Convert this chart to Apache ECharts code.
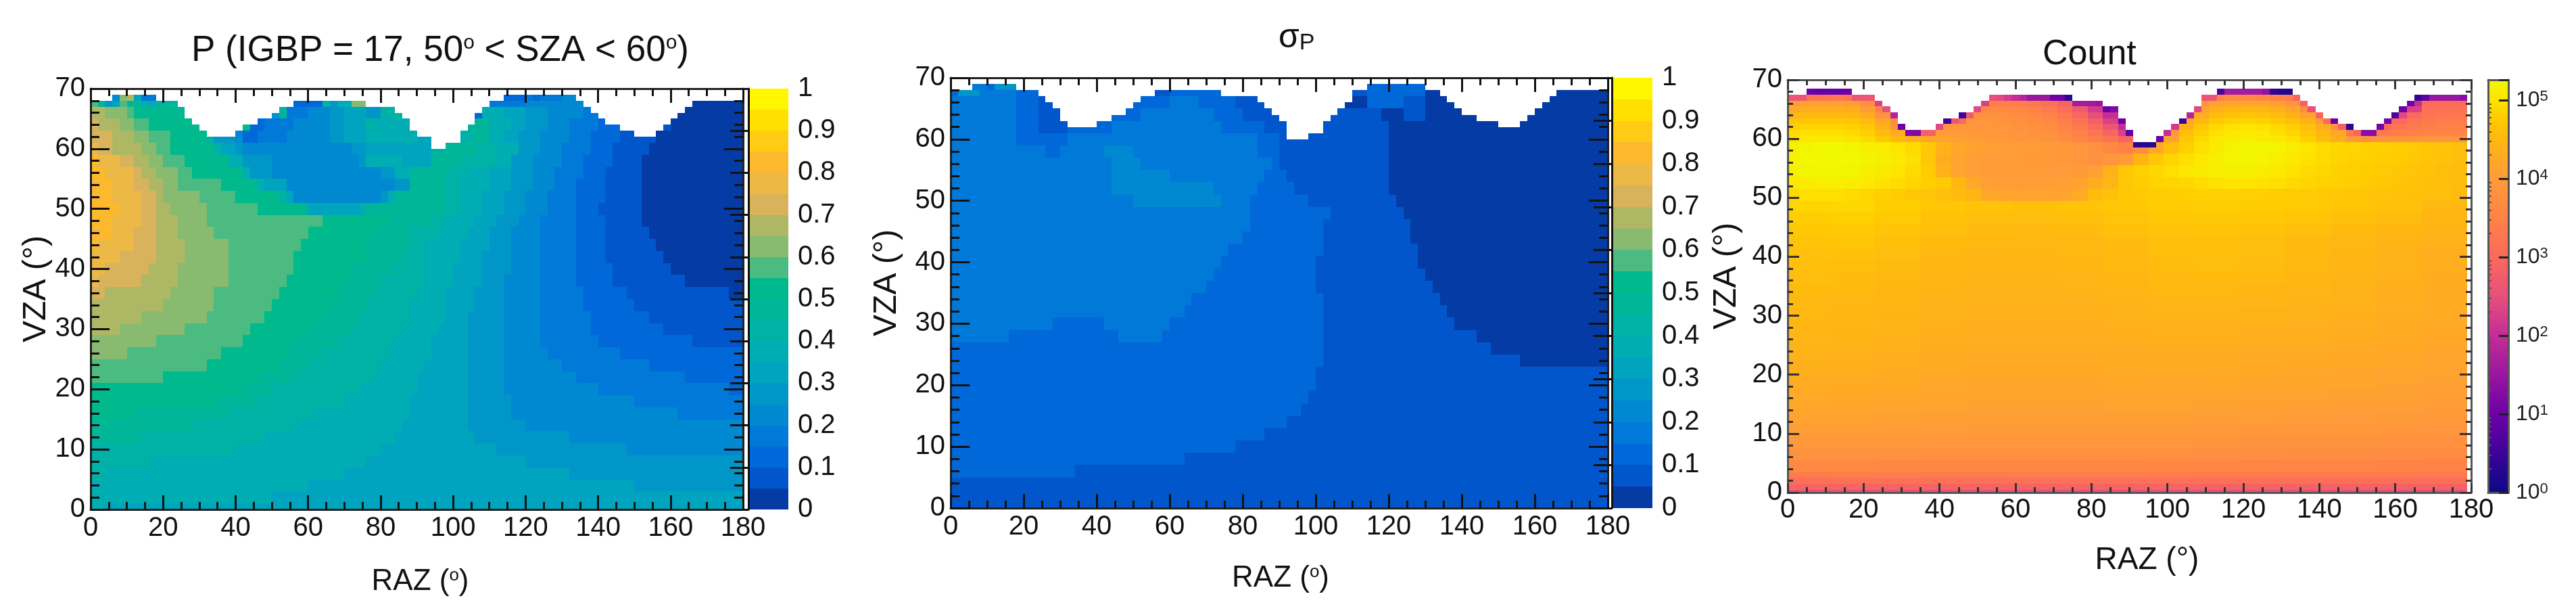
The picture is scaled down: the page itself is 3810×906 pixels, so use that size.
<!DOCTYPE html>
<html><head><meta charset="utf-8">
<style>html,body{margin:0;padding:0;background:#fff}#c{width:3810px;height:906px}</style>
<script src="https://cdn.jsdelivr.net/npm/echarts@6/dist/echarts.min.js"></script>
</head><body><div id="c"></div>
<script>
// ---------- axis ticks ----------
const razTicks=[0,180], vzaTicks=[0,70], decadeMinor=[2,3,4,5,6,7,8,9];
// ---------- palette of the 20 contour levels (0..1, step 0.05) ----------
const levelColors=['#043ba4','#0256cc','#0068d9','#0079d8','#0089d0','#0097c8','#00a4be','#00adb2','#00b2a5','#00b699','#00b98d','#4cbb81','#88bb6f','#aeb864','#d8b35c','#ecb946','#fcb92e','#ffcb14','#ffe000','#fff700'];
// ---------- P: top edge of data (VZA) for each 2 deg RAZ column ----------
const pTop=[68,68,68,69,69,69,69,69,69,68,68,68,67,65,64,63,62,62,62,62,63,64,64,65,65,66,67,67,68,68,68,68,68,68,68,68,68,68,67,67,67,67,66,65,63,62,62,60,60,61,61,63,64,66,67,68,68,69,69,69,69,69,69,69,69,69,69,68,67,66,65,64,64,63,63,62,62,62,63,64,65,66,67,68,68,68,68,68,68,68];
// P contour level along each VZA band: [vzaLow, vzaHigh, [razEnd, level, razEnd, level, ...]]
const pBands=[
[68,69,[8,4,10,12,12,13,14,6,18,3,114,3,120,2,122,3,124,2,130,3,134,4,180,0]],
[67,68,[2,11,4,9,6,5,8,6,10,11,14,9,18,7,20,8,26,9,56,3,64,2,66,8,68,5,72,7,76,12,110,7,120,3,126,4,136,4,180,0]],
[65,67,[4,13,10,12,12,11,24,10,26,9,50,9,52,5,54,9,60,3,66,4,70,5,76,6,80,5,84,8,90,9,106,2,108,2,114,7,120,6,126,5,136,4,140,3,160,1,180,0]],
[63,65,[2,14,8,13,12,12,16,11,44,10,48,2,56,3,66,4,70,5,76,6,78,8,88,7,102,8,104,8,110,9,116,7,120,6,126,5,132,4,140,3,146,2,160,1,180,0]],
[61,63,[6,14,12,13,16,12,22,11,32,10,34,8,40,5,42,4,46,2,54,3,66,4,70,5,76,6,84,7,90,7,94,6,106,8,110,9,114,7,118,6,124,5,132,4,138,3,146,2,156,1,180,0]],
[59,61,[2,15,6,14,14,13,18,12,22,11,34,10,36,8,40,6,42,5,72,4,76,5,84,6,94,6,98,8,106,9,112,8,118,7,124,5,130,4,138,3,144,2,154,1,180,0]],
[57,59,[2,16,8,15,12,14,16,13,20,12,26,11,38,10,42,7,50,5,74,4,76,5,86,7,94,6,102,9,112,8,116,7,122,5,130,4,136,3,144,2,152,1,180,0]],
[55,57,[4,16,12,15,14,14,18,13,24,12,28,11,42,10,44,7,50,5,80,4,84,5,88,7,98,9,104,8,110,7,116,6,122,5,128,4,136,3,142,2,152,1,180,0]],
[53,55,[6,16,12,15,16,14,20,13,24,12,36,11,46,10,48,7,54,6,84,4,88,5,98,9,102,8,110,7,116,6,122,5,128,4,134,3,142,2,152,1,180,0]],
[51,53,[6,16,14,15,18,14,20,13,30,12,40,11,52,10,54,8,56,6,80,4,82,5,84,7,98,9,102,8,108,7,114,6,120,5,126,4,134,3,142,2,152,1,180,0]],
[49,51,[8,16,14,15,18,14,22,13,32,12,46,11,58,10,60,9,74,6,76,7,98,9,102,8,108,7,114,6,120,5,126,4,134,3,140,2,152,1,180,0]],
[47,49,[6,16,14,15,18,14,24,13,32,12,64,11,82,10,94,9,98,8,106,7,112,6,118,5,124,4,134,3,142,2,152,1,180,0]],
[45,47,[6,16,12,15,18,14,24,13,34,12,60,11,78,10,88,9,96,8,104,7,110,6,116,5,124,4,134,3,142,2,154,1,180,0]],
[43,45,[2,16,12,15,18,14,26,13,38,12,58,11,76,10,88,9,92,8,102,7,110,6,116,5,124,4,134,3,142,2,156,1,180,0]],
[41,43,[8,15,18,14,26,13,38,12,56,11,76,10,86,9,92,8,102,7,108,6,116,5,124,4,134,3,142,2,158,1,180,0]],
[39,41,[4,15,16,14,24,13,38,12,56,11,72,10,84,9,92,8,100,7,108,6,116,5,124,4,134,3,144,2,160,1,180,0]],
[37,39,[2,15,14,14,24,13,38,12,54,11,70,10,80,9,92,8,100,7,108,6,114,5,124,4,134,3,144,2,164,1,180,0]],
[35,37,[4,14,22,13,34,12,52,11,68,10,78,9,90,8,98,7,106,6,114,5,124,4,136,3,148,2,176,1,180,0]],
[33,35,[20,13,34,12,50,11,66,10,76,9,88,8,98,7,106,6,114,5,124,4,136,3,150,2,180,1]],
[31,33,[14,13,32,12,48,11,64,10,74,9,88,8,98,7,104,6,114,5,124,4,138,3,154,2,180,1]],
[29,31,[8,13,26,12,44,11,60,10,72,9,86,8,96,7,104,6,114,5,124,4,138,3,158,2,180,1]],
[27,29,[18,12,42,11,56,10,68,9,84,8,94,7,104,6,114,5,124,4,140,3,166,2,180,1]],
[25,27,[10,12,36,11,54,10,64,9,82,8,94,7,104,6,114,5,126,4,146,3,180,2]],
[23,25,[32,11,52,10,60,9,80,8,92,7,104,6,114,5,130,4,154,3,180,2]],
[21,23,[20,11,46,10,56,9,78,8,90,7,104,6,114,5,134,4,164,3,180,2]],
[19,21,[42,10,50,9,74,8,90,7,104,6,114,5,140,4,176,3,180,2]],
[17,19,[34,10,46,9,70,8,88,7,104,6,116,5,150,4,180,3]],
[15,17,[12,10,38,9,62,8,88,7,104,6,116,5,162,4,180,3]],
[13,15,[28,9,56,8,86,7,104,6,120,5,180,4]],
[11,13,[14,9,48,8,84,7,106,6,132,5,180,4]],
[9,11,[40,8,80,7,112,6,148,5,180,4]],
[7,9,[16,8,76,7,120,6,180,5]],
[5,7,[4,8,70,7,132,6,180,5]],
[3,5,[60,7,150,6,180,5]],
[1,3,[50,7,180,6]],
[0,1,[4,7,180,6]]];
// ---------- sigma P ----------
const sTop=[68,68,68,69,69,69,69,69,69,68,68,68,67,66,65,63,62,62,62,62,63,63,64,64,65,66,67,67,68,68,68,68,68,68,68,68,68,67,67,67,67,67,66,65,64,63,60,60,60,61,61,63,64,65,66,68,68,69,69,69,69,69,69,69,69,68,68,67,66,65,64,64,63,63,63,62,62,62,63,64,65,66,67,68,68,68,68,68,68,68];
const sBands=[
[68,69,[10,3,12,2,18,5,24,1,114,1,130,2,180,0]],
[67,68,[2,2,8,5,18,3,24,2,60,1,74,2,84,1,114,1,130,2,180,0]],
[65,67,[18,3,24,2,28,1,60,2,68,3,78,2,86,1,108,1,114,0,124,2,130,1,180,0]],
[63,65,[18,3,24,2,30,1,52,2,72,3,80,2,90,1,118,1,124,0,130,1,180,0]],
[61,63,[18,3,24,2,32,1,44,2,74,3,86,2,120,1,180,0]],
[59,61,[18,3,32,2,84,3,90,2,120,1,180,0]],
[57,59,[26,3,30,2,42,3,50,4,84,3,90,2,120,1,180,0]],
[55,57,[44,3,52,4,88,3,90,2,120,1,180,0]],
[53,55,[44,3,60,4,86,3,92,2,120,1,180,0]],
[51,53,[44,3,72,4,84,3,94,2,120,1,180,0]],
[49,51,[50,3,74,4,82,3,98,2,122,1,180,0]],
[47,49,[82,3,104,2,124,1,180,0]],
[45,47,[82,3,102,2,126,1,180,0]],
[43,45,[80,3,102,2,126,1,180,0]],
[41,43,[76,3,102,2,128,1,180,0]],
[39,41,[74,3,100,2,128,1,180,0]],
[37,39,[72,3,100,2,130,1,180,0]],
[35,37,[70,3,100,2,132,1,180,0]],
[33,35,[66,3,102,2,134,1,180,0]],
[31,33,[64,3,102,2,136,1,180,0]],
[29,31,[28,3,42,2,60,3,102,2,138,1,180,0]],
[27,29,[16,3,46,2,58,3,102,2,144,1,180,0]],
[25,27,[102,2,148,1,180,0]],
[23,25,[102,2,156,1,180,0]],
[21,23,[100,2,180,1]],
[19,21,[100,2,180,1]],
[17,19,[98,2,180,1]],
[15,17,[96,2,180,1]],
[13,15,[92,2,180,1]],
[11,13,[86,2,180,1]],
[9,11,[78,2,180,1]],
[7,9,[64,2,180,1]],
[5,7,[34,2,180,1]],
[0,5,[180,1]]];
// ---------- Count: log10(count)*100 ----------
const cTop=[67,67,67,68,68,68,68,68,68,67,67,67,66,65,64,62,61,61,61,61,62,63,63,64,64,65,66,67,67,67,67,67,67,67,67,67,67,67,66,66,66,66,65,65,63,61,59,59,59,60,61,62,63,64,65,67,67,68,68,68,68,68,68,68,68,68,68,67,66,65,64,63,63,62,62,61,61,61,62,63,64,65,66,67,67,67,67,67,67,67];
const cEdge=[260,260,260,100,90,90,90,95,100,260,260,260,230,250,180,100,120,120,280,280,240,50,260,50,270,240,230,250,240,220,200,180,150,150,150,100,100,30,160,160,160,150,100,120,100,80,30,30,30,100,200,220,50,180,240,260,260,60,160,160,160,160,160,140,40,20,20,290,280,250,290,300,100,280,30,290,130,130,110,110,70,100,100,40,80,150,150,150,150,130];
const cRow60=[495,505,505,505,500,490,470,450,435,425,415,405,400,395,392,388,385,380,370,355,340,320,290,250,330,410,470,490,505,512,512,510,505,495,480,455,430,395,380,380,382,385,385,385,385];
const cRow61=[490,495,495,495,490,480,455,430,400,395,398,395,392,390,388,385,382,375,360,345,320,290,230,200,280,390,460,480,498,505,508,505,495,485,470,450,420,330,320,330,340,345,350,352,352];
const cRow62=[480,485,485,485,480,470,440,380,370,390,385,385,388,388,385,382,378,370,350,330,300,260,200,200,250,370,440,470,490,498,500,498,490,478,460,430,380,300,260,300,320,330,340,345,345];
const cRow63=[465,470,470,470,465,455,420,370,380,385,385,300,385,385,382,378,370,360,340,315,280,230,190,190,230,340,420,450,470,480,485,480,470,460,440,400,340,280,240,230,300,320,330,335,335];
const cRow64=[445,450,452,452,448,430,380,350,360,370,370,340,375,380,378,372,362,348,325,295,250,200,150,150,200,310,390,430,455,465,468,465,455,440,410,360,300,260,240,220,240,300,320,325,325];
const cRow65=[420,430,432,432,428,400,350,330,340,350,350,320,320,360,360,355,345,330,305,270,220,170,150,150,180,280,360,410,435,445,448,445,435,415,370,320,280,250,230,200,200,230,310,315,315];
const cRow66=[395,405,408,408,400,370,300,300,320,330,330,320,300,340,338,335,325,310,285,240,190,160,150,150,160,250,320,380,405,415,418,415,405,380,320,300,280,250,220,200,180,200,300,305,305];
const cRow67=[300,320,320,325,320,280,280,290,300,300,300,300,300,300,290,290,285,280,265,220,180,160,150,150,160,220,280,300,350,360,360,355,345,340,300,300,280,250,220,200,180,200,290,295,295];
const cFine=[cRow60,cRow61,cRow62,cRow63,cRow64,cRow65,cRow66,cRow67];
const cRow50=[490,495,495,495,490,485,480,475,470,465,460,455,445,420,415,410,410,410,412,425,455,462,470,472,475,478,480,482,482,482,480,480,478,476,474,472,470,468,466,464,462,460,458,456,452];
const cRow52=[505,510,512,512,510,505,498,492,486,480,474,450,420,405,402,400,402,402,405,410,430,445,470,478,484,486,488,492,498,500,500,498,495,490,486,482,480,478,474,470,466,463,460,458,455];
const cRow54=[515,520,522,522,520,514,508,500,490,475,440,415,405,400,398,398,398,398,398,395,405,440,470,480,488,495,502,508,512,514,514,510,505,498,490,486,482,480,476,472,468,465,462,458,455];
const cRow56=[518,525,528,528,525,520,512,505,495,470,430,410,402,400,398,398,396,395,392,385,380,385,400,445,470,485,495,505,515,520,520,518,515,505,497,490,485,482,480,478,475,470,465,462,458];
const cRow58=[515,520,525,525,520,515,510,500,490,470,440,420,410,405,402,400,398,395,390,385,375,360,345,370,420,460,480,495,508,518,522,522,518,510,500,492,488,485,482,480,478,472,468,465,460];
const cMid=[cRow50,cRow52,cRow54,cRow56,cRow58];
const cLowFirst=[
[250,250,252,252,252,252,252,252,252,250,250,250,248,248,248],
[288,288,289,289,288,288,288,288,288,287,286,285,284,284,284],
[312,313,313,313,312,312,312,312,312,311,310,309,308,308,308],
[336,337,337,336,336,335,335,335,335,334,333,332,331,330,330]];
const cLow=[
[360,360,358,358,357,357,357,357,356,356,354,352,352,350,348],
[380,380,378,377,376,375,375,375,375,373,371,370,369,367,365],
[392,392,390,388,387,386,386,386,386,384,382,381,380,378,376],
[402,401,399,397,395,395,395,395,395,393,392,391,389,387,385],
[411,410,408,406,404,404,404,404,404,403,402,400,398,396,394],
[417,416,414,411,409,409,409,410,410,409,408,406,404,402,400],
[423,422,419,416,414,414,414,415,415,414,413,411,409,407,404],
[428,427,424,420,418,418,418,419,420,419,418,416,414,411,408],
[433,432,428,424,422,422,422,423,424,423,422,420,418,415,412],
[437,436,432,428,426,426,426,427,428,427,426,424,422,419,415],
[441,440,436,431,429,429,429,430,431,431,430,428,425,422,418],
[444,443,439,434,432,432,432,433,435,435,434,432,429,425,421],
[446,445,441,436,434,434,434,436,438,438,437,435,432,428,424],
[448,447,443,438,436,436,436,438,441,441,440,438,435,430,426],
[450,449,445,440,438,438,438,441,444,445,444,441,437,432,428],
[453,452,447,442,440,440,441,444,448,449,447,444,440,434,429],
[456,455,450,444,442,442,444,447,452,453,451,447,442,436,431],
[459,458,453,447,444,444,446,450,455,456,454,449,444,438,432],
[462,462,456,450,447,446,448,452,457,458,456,451,446,440,434],
[466,467,460,453,450,449,450,454,459,460,458,453,448,442,436],
[471,472,466,458,454,452,454,459,464,465,462,457,452,447,441],
[478,480,472,463,458,456,459,464,469,471,469,465,460,454,446],
[485,488,479,470,464,461,465,470,475,477,476,472,467,462,450]];
// colour ramp of the Count map: log10(count) and colour
const rampLog=[0,1,2,2.5,3,3.5,4,4.5,4.8,5,5.26];
const rampColor=['#0d0887','#6e00a8','#c42e96','#e8507a','#fb6a5c','#ff8346','#ff9c38','#ffb810','#ffcf00','#ffe400','#f0f900'];
const countMaxLog=5.26;

function rampAt(v){
  for(let i=1;i<rampLog.length;i++){
    if(v<=rampLog[i]){return echarts.color.lerp((v-rampLog[i-1])/(rampLog[i]-rampLog[i-1]),[rampColor[i-1],rampColor[i]]);}
  }
  return rampColor[rampColor.length-1];
}
function bandCells(bands,top){
  const out=[];
  top.forEach((t,c)=>{
    const x0=c*2;
    bands.forEach(b=>{
      if(b[0]>=t)return;
      const runs=b[2];let lev=runs[runs.length-1];
      for(let k=0;k<runs.length;k+=2){if(runs[k]>x0){lev=runs[k+1];break;}}
      out.push([x0,x0+2,b[0],Math.min(b[1],t),lev]);
    });
  });
  return out;
}
function countCells(){
  const out=[];
  cTop.forEach((t,c)=>{
    const x=c*2;
    for(let j=0;j<=t;j++){
      let v;
      if(j===t)v=cEdge[c];
      else if(j>=60)v=cFine[j-60][c>>1];
      else if(j>=50)v=cMid[(j-50)>>1][c>>1];
      else if(j<4)v=cLowFirst[j][Math.floor(x/12)];
      else v=cLow[(j-4)>>1][Math.floor(x/12)];
      out.push([Math.max(0,x-1),x+1,Math.max(0,j-.5),j+.5,rampAt(v/100)]);
    }
  });
  return out;
}
function rectItem(colorOf){
  return function(params,api){
    const a=api.coord([api.value(0),api.value(2)]),b=api.coord([api.value(1),api.value(3)]);
    const x=Math.round(a[0]),y=Math.round(b[1]);
    return {type:'rect',shape:{x:x,y:y,width:Math.round(b[0])-x,height:Math.round(a[1])-y},style:{fill:colorOf(params.dataIndex)},silent:true};
  };
}
const FF='"Liberation Sans"';
function mainAxes(idx,o){
  const line={lineStyle:{color:o.c,width:3}};
  const xTick={inside:true,length:o.xMajor,lineStyle:{color:o.t,width:o.w}};
  const xMin={show:true,splitNumber:4,length:o.xMinor,lineStyle:{color:o.t,width:o.w}};
  const yTick={inside:true,length:o.yMajor,lineStyle:{color:o.t,width:o.w}};
  const yMin={show:true,splitNumber:5,length:o.yMinor,lineStyle:{color:o.t,width:o.w}};
  const baseX={type:'value',gridIndex:idx,min:razTicks[0],max:razTicks[1],interval:20,splitLine:{show:false},axisLine:Object.assign({onZero:false,show:true},line),axisTick:xTick,minorTick:xMin,z:10};
  const baseY={type:'value',gridIndex:idx,min:vzaTicks[0],max:vzaTicks[1],interval:10,splitLine:{show:false},axisLine:Object.assign({onZero:false,show:true},line),axisTick:yTick,minorTick:yMin,z:10};
  return {
    x:[Object.assign({},baseX,{position:'bottom',axisLabel:{fontFamily:FF,fontSize:40,color:'#111',margin:o.xMargin,hideOverlap:false},
        name:o.xName,nameLocation:'middle',nameGap:o.xGap,nameTextStyle:{padding:[0,0,0,o.xShift],rich:o.xRich,fontFamily:FF,fontSize:o.xSize,color:'#111'}}),
       Object.assign({},baseX,{position:'top',axisLabel:{show:false}})],
    y:[Object.assign({},baseY,{position:'left',axisLabel:{fontFamily:FF,fontSize:40,color:'#111',margin:8},
        name:'VZA (°)',nameLocation:'middle',nameGap:o.yGap,nameTextStyle:{padding:[0,0,0,30],fontFamily:FF,fontSize:o.ySize,color:'#111'}}),
       Object.assign({},baseY,{position:'right',axisLabel:{show:false}})]
  };
}
const supX={n:{fontFamily:FF,fontSize:44,color:'#111'},s:{fontFamily:FF,fontSize:26,color:'#111',verticalAlign:'top'}};
const razRich='{n|RAZ (}{s|o}{n|)}';
const grids=[],xAxes=[],yAxes=[],series=[];
function addMain(box,o,cells,colorOf){
  const idx=grids.length;grids.push({left:box[0],top:box[1],width:box[2]-box[0],height:box[3]-box[1],containLabel:false});
  const a=mainAxes(idx,o);
  const xi=xAxes.length,yi=yAxes.length;
  xAxes.push(...a.x);yAxes.push(...a.y);
  series.push({type:'custom',xAxisIndex:xi,yAxisIndex:yi,data:cells,clip:true,animation:false,silent:true,progressive:0,z:2,
    encode:{x:[0,1],y:[2,3]},renderItem:rectItem(i=>colorOf(cells[i]))});
}
function addDiscreteBar(box){
  const idx=grids.length;grids.push({left:box[0],top:box[1],width:box[2]-box[0],height:box[3]-box[1]});
  const xi=xAxes.length,yi=yAxes.length;
  xAxes.push({type:'value',gridIndex:idx,min:0,max:1,show:false});
  yAxes.push({type:'value',gridIndex:idx,min:0,max:1,interval:.1,position:'right',z:10,splitLine:{show:false},
    axisLine:{show:true,lineStyle:{color:'#111',width:3}},axisTick:{inside:true,length:27,lineStyle:{color:'#111',width:3}},
    axisLabel:{fontFamily:FF,fontSize:40,color:'#111',margin:14}});
  const cells=levelColors.map((c,i)=>[0,1,i*.05,(i+1)*.05,i]);
  series.push({type:'custom',xAxisIndex:xi,yAxisIndex:yi,data:cells,animation:false,silent:true,progressive:0,z:2,
    encode:{x:[0,1],y:[2,3]},renderItem:rectItem(i=>levelColors[i])});
}
function addLogBar(box){
  const idx=grids.length;grids.push({left:box[0],top:box[1],width:box[2]-box[0],height:box[3]-box[1]});
  const xi=xAxes.length,yi=yAxes.length;
  const frame={show:true,lineStyle:{color:'#555',width:3}};
  xAxes.push({type:'value',gridIndex:idx,min:0,max:1,position:'bottom',axisLine:Object.assign({onZero:false},frame),axisTick:{show:false},axisLabel:{show:false},splitLine:{show:false},z:10},
             {type:'value',gridIndex:idx,min:0,max:1,position:'top',axisLine:Object.assign({onZero:false},frame),axisTick:{show:false},axisLabel:{show:false},splitLine:{show:false},z:10});
  const sup={b:{fontFamily:FF,fontSize:32,color:'#222'},s:{fontFamily:FF,fontSize:22,color:'#222',verticalAlign:'top'}};
  const minor=[];for(let d=0;d<6;d++)decadeMinor.forEach(m=>{const v=d+Math.log10(m);if(v<countMaxLog)minor.push(v);});
  yAxes.push({type:'value',gridIndex:idx,min:0,max:countMaxLog,interval:1,position:'right',z:10,splitLine:{show:false},
      axisLine:Object.assign({onZero:false},frame),axisTick:{inside:true,length:14,lineStyle:{color:'#222',width:3}},
      axisLabel:{margin:11,customValues:[0,1,2,3,4,5],formatter:v=>'{b|10}{s|'+v+'}',rich:sup}},
    {type:'value',gridIndex:idx,min:0,max:countMaxLog,position:'left',z:10,splitLine:{show:false},
      axisLine:Object.assign({onZero:false},frame),axisTick:{show:false},axisLabel:{show:false}},
    {type:'value',gridIndex:idx,min:0,max:countMaxLog,position:'right',z:10,splitLine:{show:false},axisLine:{show:false},
      axisTick:{customValues:minor,length:5,lineStyle:{color:'#555',width:2}},axisLabel:{show:false}});
  const cells=[];for(let k=0;k<263;k++)cells.push([0,1,k/50,Math.min(countMaxLog,(k+1)/50)]);
  series.push({type:'custom',xAxisIndex:xi,yAxisIndex:yi,data:cells,animation:false,silent:true,progressive:0,z:2,
    encode:{x:[0,1],y:[2,3]},renderItem:rectItem(i=>rampAt(cells[i][2]))});
}
const blackAxis={c:'#222',t:'#111',w:3,xMajor:21,xMinor:11,yMajor:28,yMinor:13,xMargin:8};
addMain([134,131,1099,753],Object.assign({},blackAxis,{xName:razRich,xRich:supX,xGap:85,xShift:10,xSize:44,yGap:56,ySize:48}),bandCells(pBands,pTop),d=>levelColors[d[4]]);
addDiscreteBar([1107,131,1166,753]);
addMain([1406,115,2378,751],Object.assign({},blackAxis,{xName:razRich,xRich:supX,xGap:82,xShift:4,xSize:44,yGap:70,ySize:48}),bandCells(sBands,sTop),d=>levelColors[d[4]]);
addDiscreteBar([2384,115,2444,751]);
addMain([2644,118,3655,728],{c:'#555',t:'#333',w:3,xMajor:14,xMinor:8,yMajor:17,yMinor:8,xMargin:6,
  xName:'RAZ (°)',xRich:undefined,xGap:77,xShift:52,xSize:46,yGap:66,ySize:48},countCells(),d=>d[4]);
addLogBar([3680,118,3710,728]);
const titles=[
 {left:278,top:44,text:'{a|P (IGBP = 17, 50}{s|o}{a| < SZA < 60}{s|o}{a|)}',textStyle:{rich:{a:{fontFamily:FF,fontSize:53,fontWeight:'normal',color:'#111'},s:{fontFamily:FF,fontSize:30,fontWeight:'normal',color:'#111',verticalAlign:'top'}}}},
 {left:1886,top:26,text:'{a|σ}{s|P}',textStyle:{rich:{a:{fontFamily:FF,fontSize:50,fontWeight:'normal',color:'#111'},s:{fontFamily:FF,fontSize:34,fontWeight:'normal',color:'#111',verticalAlign:'bottom'}}}},
 {left:3016,top:50,text:'Count',textStyle:{fontFamily:FF,fontSize:52,fontWeight:'normal',color:'#111'}}
];
const chart=echarts.init(document.getElementById('c'),null,{renderer:'canvas'});
chart.setOption({animation:false,backgroundColor:'#fff',title:titles,grid:grids,xAxis:xAxes,yAxis:yAxes,series:series});
</script></body></html>
